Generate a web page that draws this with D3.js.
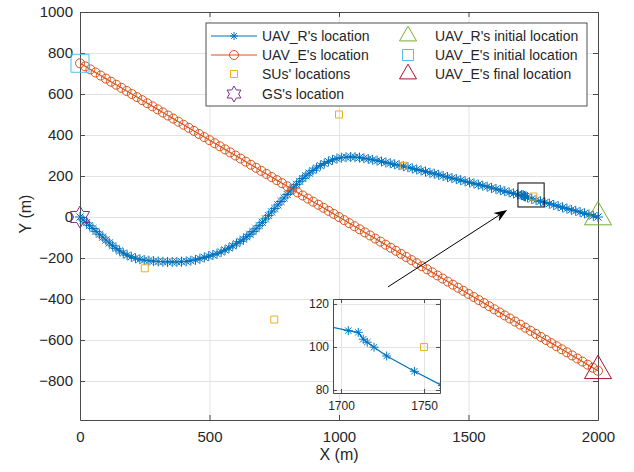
<!DOCTYPE html>
<html lang="en">
<head>
<meta charset="UTF-8">
<title>UAV trajectories</title>
<style>
  body { margin: 0; background: #fff; }
  text { font-family: "Liberation Sans", Arial, Helvetica, sans-serif; fill: #262626; }
</style>
</head>
<body>
<div id="wrapper"></div>
<script src="https://d3js.org/d3.v7.min.js"></script>
<script>
// UAV_R trajectory
const xR = [0,12,25,37,50,62,75,88,100,113,126,139,153,167,182,198,214,231,248,
  266,284,302,320,338,356,374,392,410,428,446,
  463,480,497,513,529,545,560,575,590,604,618,631,644,656,668,680,692,704,716,728,
  740,752,764,776,788,800,812,824,836,848,860,872,885,899,913,928,943,959,975,992,1009,1027,1045,
  1062,1079,1096,1113,1130,1147,1164,1181,1198,1215,1232,1249,1266,1283,1300,1317,1334,1351,1368,1385,
  1402,1419,1436,1453,1470,1487,1504,1521,1538,1555,1572,1589,1606,1623,1640,1657,1674,1690,
  1704.4,1710.4,1713.4,1715.8,1719.9,1727.5,1744.2,
  1761,1778,1795,1812,1829,1846,1863,1880,1897,1914,1931,1948,1965,1982,2000];
const yR = [0,-14,-28,-42,-56,-70,-84,-98,-112,-126,-140,-153,-165,-176,-186,-194,-201,-206,-210,
  -213,-215,-217,-218,-219,-219,-219,-218,-216,-213,-209,
  -203,-197,-191,-185,-179,-170,-161,-151,-141,-130,-119,-108,-96,-84,-71,-57,-42,-26,-9,8,
  25,42,59,76,93,110,127,143,159,174,188,201,214,227,239,251,261,271,279,285,289,292,293,
  292,290,287,283,279,275,271,266,262,257,253,248,243,237,232,227,222,216,211,206,
  200,195,190,185,180,174,169,164,158,153,148,142,137,131,126,120,115,110,
  107.6,106.8,103.6,102.2,99.9,95.8,88.7,
  82,77,71,65,59,53,47,41,35,30,24,18,12,6,0];

// UAV_E trajectory
const xE = [0,20,40,60,80,100,120,140,160,180,200,220,240,260,280,300,320,340,360,380,
  400,420,440,460,480,500,520,540,560,580,600,620,640,660,680,700,720,740,760,780,
  800,820,840,860,880,900,920,940,960,980,1000,1020,1040,1060,1080,1100,1120,1140,1160,1180,
  1200,1220,1240,1260,1280,1300,1320,1340,1360,1380,1400,1420,1440,1460,1480,1500,1520,1540,1560,1580,
  1600,1620,1640,1660,1680,1700,1720,1740,1760,1780,1800,1820,1840,1860,1880,1900,1920,1940,1960,1980,2000];
const yE = [750,735,720,705,690,675,660,645,630,615,600,585,570,555,540,525,510,495,480,465,
  450,435,420,405,390,375,360,345,330,315,300,285,270,255,240,225,210,195,180,165,
  150,135,120,105,90,75,60,45,30,15,0,-15,-30,-45,-60,-75,-90,-105,-120,-135,
  -150,-165,-180,-195,-210,-225,-240,-255,-270,-285,-300,-315,-330,-345,-360,-375,-390,-405,-420,-435,
  -450,-465,-480,-495,-510,-525,-540,-555,-570,-585,-600,-615,-630,-645,-660,-675,-690,-705,-720,-735,-750];

const suX = [250, 1000, 750, 1250, 1750],
      suY = [-250, 500, -500, 250, 100];
const gsPos = [0, 0],
      rStart = [2000, 0],
      eStart = [0, 750],
      eEnd = [2000, -750];

const xTicks = [0, 500, 1000, 1500, 2000];
const yTicks = [-800, -600, -400, -200, 0, 200, 400, 600, 800, 1000];
const insetXTicks = [1700, 1750];
const insetYTicks = [80, 100, 120];

const zoomBox = [1691, 1792, 49, 166];      // x0, x1, y0, y1
const arrowFrom = [1189, -341], arrowTo = [1649, 34];

const legendCol1 = ["UAV_R's location", "UAV_E's location", "SUs' locations", "GS's location"];
const legendCol2 = ["UAV_R's initial location", "UAV_E's initial location", "UAV_E's final location"];

const C = {
  r: '#0072BD', e: '#D95319', su: '#EDB120', gs: '#7E2F8E',
  rInit: '#77AC30', eInit: '#4DBEEE', eFin: '#A2142F',
  grid: '#e3e3e3', axis: '#4a4a4a'
};

const W = 634, H = 472;
const svg = d3.select('#wrapper').append('svg').attr('width', W).attr('height', H);

const x = d3.scaleLinear().domain([0, 2000]).range([80, 598]);
const y = d3.scaleLinear().domain([-990, 1000]).range([420, 12]);
const fmt = d3.format('d');

// marker shapes
function asterisk(h) {
  const a = h * 0.707;
  return `M${-h},0L${h},0M0,${-h}L0,${h}M${-a},${-a}L${a},${a}M${-a},${a}L${a},${-a}`;
}
function triangle(side) {
  const ht = side * 0.866;
  return `M0,${-2 * ht / 3}L${side / 2},${ht / 3}L${-side / 2},${ht / 3}Z`;
}
function square(s) {
  return `M${-s / 2},${-s / 2}h${s}v${s}h${-s}Z`;
}
function hexagram(R) {
  const r = R / Math.sqrt(3);
  const pts = d3.range(12).map(i => {
    const ang = -Math.PI / 2 + i * Math.PI / 6;
    const rad = i % 2 === 0 ? R : r;
    return [rad * Math.cos(ang), rad * Math.sin(ang)];
  });
  return 'M' + pts.map(p => p.join(',')).join('L') + 'Z';
}
const circle = r => d3.symbol(d3.symbolCircle, Math.PI * r * r)();

// grid
const g = svg.append('g');
g.append('g').attr('transform', 'translate(0,420)')
  .call(d3.axisBottom(x).tickValues(xTicks).tickSize(-408).tickFormat(''))
  .call(s => s.select('.domain').remove())
  .call(s => s.selectAll('line').attr('stroke', C.grid));
g.append('g').attr('transform', 'translate(80,0)')
  .call(d3.axisLeft(y).tickValues(yTicks).tickSize(-518).tickFormat(''))
  .call(s => s.select('.domain').remove())
  .call(s => s.selectAll('line').attr('stroke', C.grid));

// axes with inward ticks
function styleAxis(s, fs) {
  s.select('.domain').attr('stroke', C.axis);
  s.selectAll('.tick line').attr('stroke', C.axis);
  s.selectAll('.tick text').attr('fill', '#262626').style('font-size', fs + 'px')
    .style('font-family', '"Liberation Sans", Arial, sans-serif');
}
g.append('g').attr('transform', 'translate(0,420)')
  .call(d3.axisBottom(x).tickValues(xTicks).tickFormat(fmt).tickSizeInner(-5).tickSizeOuter(0).tickPadding(11))
  .call(s => styleAxis(s, 15));
g.append('g').attr('transform', 'translate(80,0)')
  .call(d3.axisLeft(y).tickValues(yTicks).tickFormat(fmt).tickSizeInner(-5).tickSizeOuter(0).tickPadding(7))
  .call(s => styleAxis(s, 15));
g.append('g').attr('transform', 'translate(0,12)')
  .call(d3.axisTop(x).tickValues(xTicks).tickSizeInner(-5).tickSizeOuter(0).tickFormat(''))
  .call(s => styleAxis(s, 15));
g.append('g').attr('transform', 'translate(598,0)')
  .call(d3.axisRight(y).tickValues(yTicks).tickSizeInner(-5).tickSizeOuter(0).tickFormat(''))
  .call(s => styleAxis(s, 15));

svg.append('text').attr('x', 339).attr('y', 460).attr('text-anchor', 'middle')
  .style('font-size', '16px').text('X (m)');
svg.append('text').attr('transform', 'translate(31,214) rotate(-90)').attr('text-anchor', 'middle')
  .style('font-size', '16px').text('Y (m)');

// data layers
function drawSeries(parent, xs, ys, sx, sy, color, markerPath, withLine) {
  const pts = xs.map((v, i) => [v, ys[i]]);
  if (withLine) {
    parent.append('path').datum(pts)
      .attr('d', d3.line().x(d => sx(d[0])).y(d => sy(d[1])))
      .attr('fill', 'none').attr('stroke', color).attr('stroke-width', 1.2);
  }
  parent.append('g').selectAll('path').data(pts).join('path')
    .attr('transform', d => `translate(${sx(d[0])},${sy(d[1])})`)
    .attr('d', markerPath)
    .attr('fill', 'none').attr('stroke', color).attr('stroke-width', 1);
}

const plot = svg.append('g');
drawSeries(plot, xR, yR, x, y, C.r, asterisk(5), true);
drawSeries(plot, xE, yE, x, y, C.e, circle(4.5), true);
drawSeries(plot, suX, suY, x, y, C.su, square(7), false);
drawSeries(plot, [gsPos[0]], [gsPos[1]], x, y, C.gs, hexagram(11), false);
drawSeries(plot, [rStart[0]], [rStart[1]], x, y, C.rInit, triangle(27), false);
drawSeries(plot, [eStart[0]], [eStart[1]], x, y, C.eInit, square(18), false);
drawSeries(plot, [eEnd[0]], [eEnd[1]], x, y, C.eFin, triangle(27), false);

// zoom box and arrow
svg.append('rect')
  .attr('x', x(zoomBox[0])).attr('y', y(zoomBox[3]))
  .attr('width', x(zoomBox[1]) - x(zoomBox[0])).attr('height', y(zoomBox[2]) - y(zoomBox[3]))
  .attr('fill', 'none').attr('stroke', '#000').attr('stroke-width', 1);

const ax0 = x(arrowFrom[0]), ay0 = y(arrowFrom[1]), ax1 = x(arrowTo[0]), ay1 = y(arrowTo[1]);
const ang = Math.atan2(ay1 - ay0, ax1 - ax0);
const headLen = 13, headW = 5;
svg.append('line')
  .attr('x1', ax0).attr('y1', ay0)
  .attr('x2', ax1 - Math.cos(ang) * headLen * 0.7).attr('y2', ay1 - Math.sin(ang) * headLen * 0.7)
  .attr('stroke', '#000').attr('stroke-width', 1);
svg.append('path')
  .attr('transform', `translate(${ax1},${ay1}) rotate(${ang * 180 / Math.PI})`)
  .attr('d', `M0,0L${-headLen},${-headW}L${-headLen * 0.7},0L${-headLen},${headW}Z`)
  .attr('fill', '#000');

// legend
const leg = svg.append('g');
leg.append('rect').attr('x', 206).attr('y', 23).attr('width', 381).attr('height', 83)
  .attr('fill', '#fff').attr('stroke', '#262626').attr('stroke-width', 0.8);
const rowY = [36, 55, 74, 94];
const col1Marks = [
  { color: C.r, d: asterisk(4), line: true },
  { color: C.e, d: circle(4.5), line: true },
  { color: C.su, d: square(7), line: false },
  { color: C.gs, d: hexagram(8), line: false }
];
const col2Marks = [
  { color: C.rInit, d: triangle(17) },
  { color: C.eInit, d: square(11) },
  { color: C.eFin, d: triangle(17) }
];
legendCol1.forEach((t, i) => {
  const m = col1Marks[i];
  if (m.line) {
    leg.append('line').attr('x1', 211).attr('x2', 257).attr('y1', rowY[i]).attr('y2', rowY[i])
      .attr('stroke', m.color).attr('stroke-width', 1);
  }
  leg.append('path').attr('transform', `translate(234,${rowY[i]})`).attr('d', m.d)
    .attr('fill', 'none').attr('stroke', m.color).attr('stroke-width', 1);
  leg.append('text').attr('x', 262).attr('y', rowY[i] + 5).style('font-size', '14px').text(t);
});
legendCol2.forEach((t, i) => {
  const m = col2Marks[i];
  leg.append('path').attr('transform', `translate(408,${rowY[i]})`).attr('d', m.d)
    .attr('fill', 'none').attr('stroke', m.color).attr('stroke-width', 1);
  leg.append('text').attr('x', 435).attr('y', rowY[i] + 5).style('font-size', '14px').text(t);
});

// inset
const ix = d3.scaleLinear().domain([1695.2, 1759.6]).range([333, 440]);
const iy = d3.scaleLinear().domain([78.6, 122.3]).range([393, 299]);
const inset = svg.append('g');
inset.append('rect').attr('x', 333).attr('y', 299).attr('width', 107).attr('height', 94).attr('fill', '#fff');
svg.append('clipPath').attr('id', 'insetClip')
  .append('rect').attr('x', 333).attr('y', 299).attr('width', 107).attr('height', 94);
inset.append('g').attr('transform', 'translate(0,393)')
  .call(d3.axisBottom(ix).tickValues(insetXTicks).tickSize(-94).tickFormat(''))
  .call(s => s.select('.domain').remove())
  .call(s => s.selectAll('line').attr('stroke', C.grid));
inset.append('g').attr('transform', 'translate(333,0)')
  .call(d3.axisLeft(iy).tickValues(insetYTicks).tickSize(-107).tickFormat(''))
  .call(s => s.select('.domain').remove())
  .call(s => s.selectAll('line').attr('stroke', C.grid));
const insetData = inset.append('g').attr('clip-path', 'url(#insetClip)');
drawSeries(insetData, xR, yR, ix, iy, C.r, asterisk(4.5), true);
drawSeries(insetData, suX, suY, ix, iy, C.su, square(7), false);
inset.append('g').attr('transform', 'translate(0,393)')
  .call(d3.axisBottom(ix).tickValues(insetXTicks).tickFormat(fmt).tickSizeInner(-4).tickSizeOuter(0).tickPadding(8))
  .call(s => styleAxis(s, 12));
inset.append('g').attr('transform', 'translate(333,0)')
  .call(d3.axisLeft(iy).tickValues(insetYTicks).tickFormat(fmt).tickSizeInner(-4).tickSizeOuter(0).tickPadding(4))
  .call(s => styleAxis(s, 12));
inset.append('g').attr('transform', 'translate(0,299)')
  .call(d3.axisTop(ix).tickValues(insetXTicks).tickSizeInner(-4).tickSizeOuter(0).tickFormat(''))
  .call(s => styleAxis(s, 12));
inset.append('g').attr('transform', 'translate(440,0)')
  .call(d3.axisRight(iy).tickValues(insetYTicks).tickSizeInner(-4).tickSizeOuter(0).tickFormat(''))
  .call(s => styleAxis(s, 12));
</script>
</body>
</html>
